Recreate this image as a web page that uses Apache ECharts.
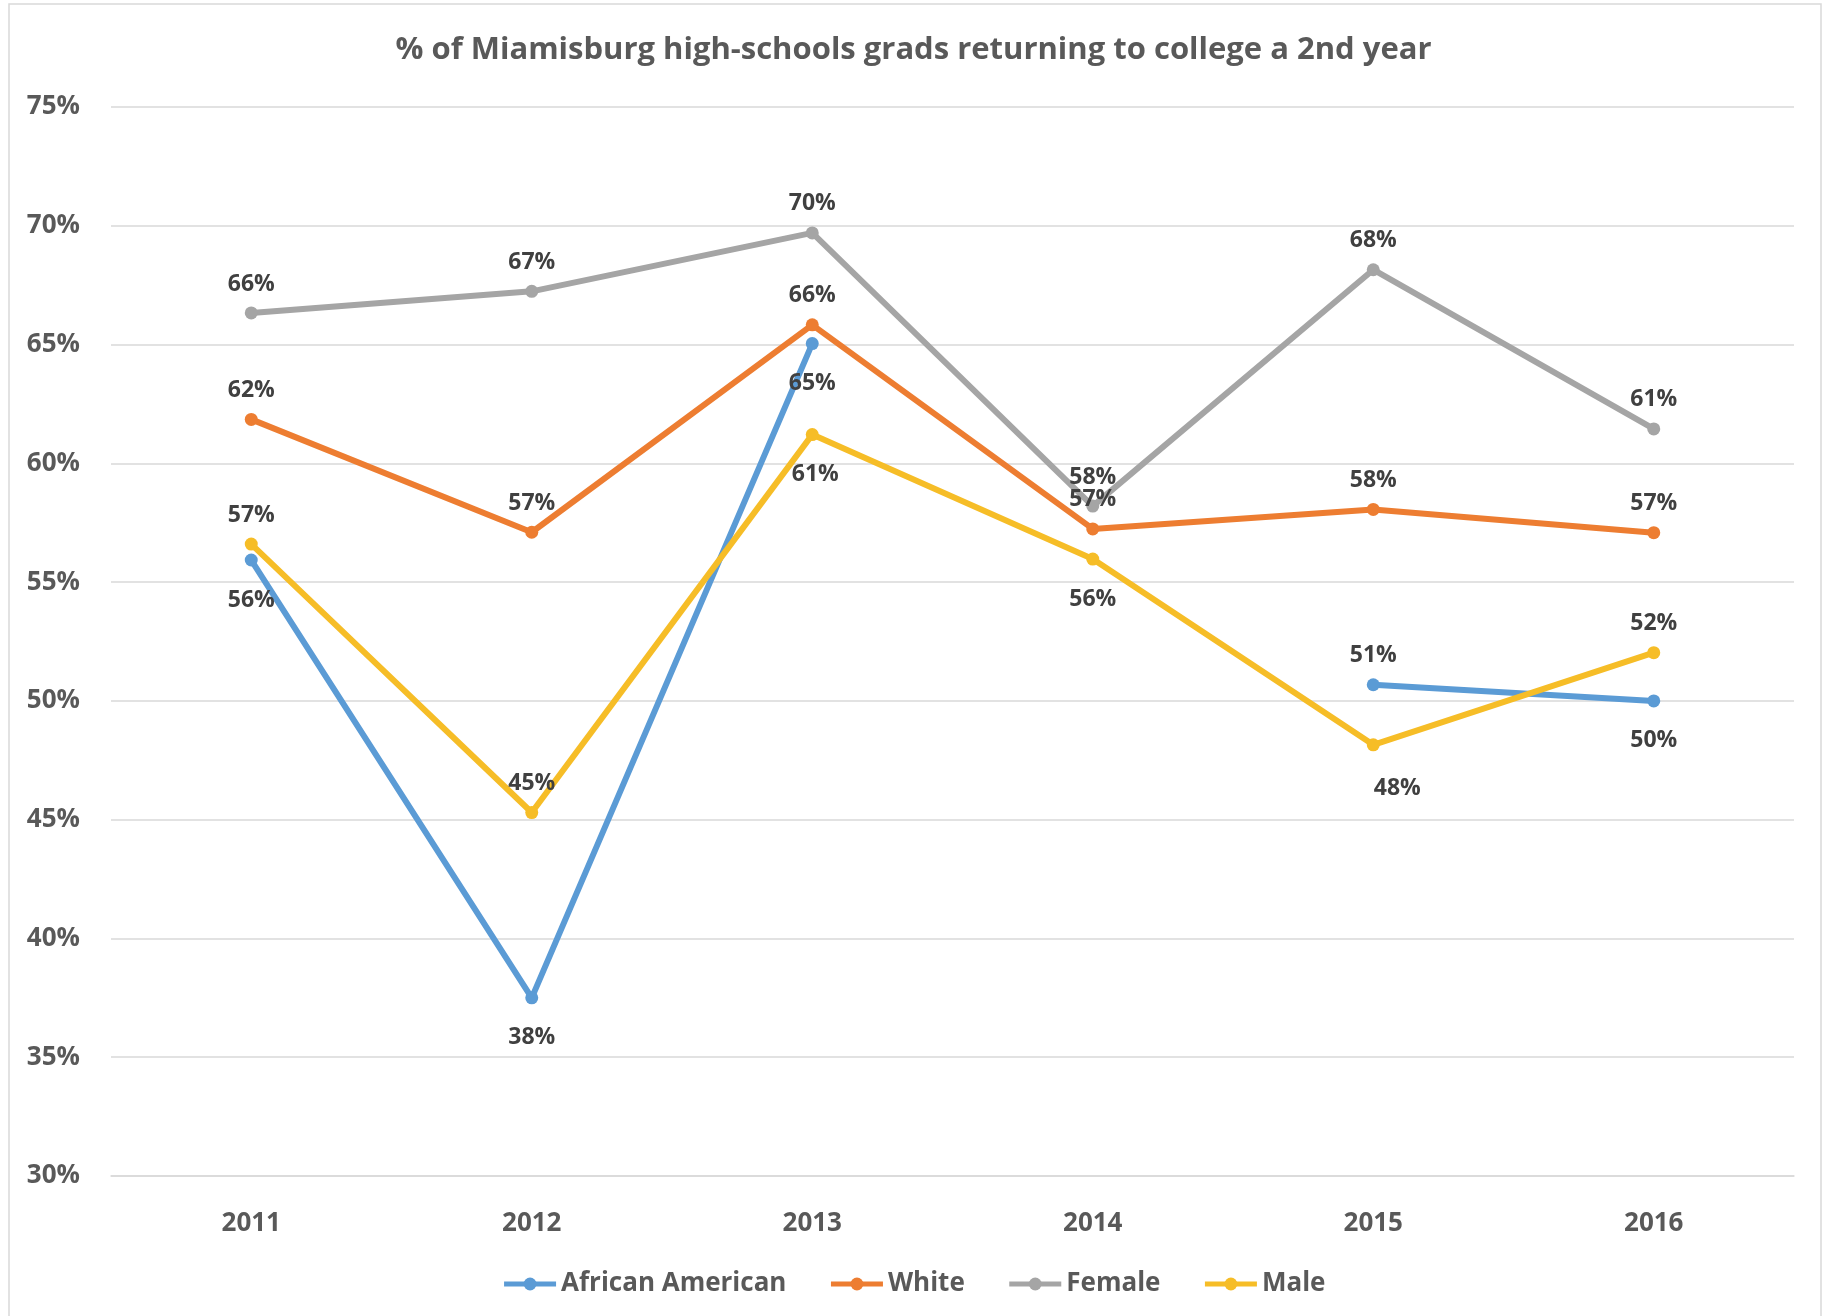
<!DOCTYPE html>
<html>
<head>
<meta charset="utf-8">
<title>Miamisburg grads returning to college</title>
<script src="https://cdn.jsdelivr.net/npm/echarts@6/dist/echarts.min.js"></script>
<style>
    html, body { margin: 0; padding: 0; background: #fff; }
    #chart { width: 1827px; height: 1316px; }
</style>
</head>
<body>
<div id="chart"></div>
<script>
// 数据（读图估计，单位 %）
var years = ['2011', '2012', '2013', '2014', '2015', '2016'];
var africanAmerican = [55.93, 37.5, 65.04, null, 50.68, 50.0];
var white = [61.85, 57.1, 65.83, 57.24, 58.06, 57.08];
var female = [66.33, 67.24, 69.7, 58.2, 68.15, 61.45];
var male = [56.6, 45.3, 61.21, 55.97, 48.15, 52.03];
var yTicks = [30, 35, 40, 45, 50, 55, 60, 65, 70, 75];

var font = '"Open Sans", "Liberation Sans", sans-serif';

// 每个点的标签位置（默认 top）
var labelBelow = {
    'African American': [0, 1, 2, 5],
    'Male': [2, 3, 4]
};

function buildData(name, values) {
    var below = labelBelow[name] || [];
    return values.map(function (v, i) {
        if (v === null) return null;
        var item = { value: v };
        if (below.indexOf(i) > -1) {
            item.label = { position: 'bottom', distance: 22 };
            if (name === 'Male' && i === 4) item.label.offset = [24, 4];
            if (name === 'Male' && i === 2) item.label.offset = [3, 0];
        }
        return item;
    });
}

function makeSeries(name, values, color) {
    return {
        name: name,
        type: 'line',
        data: buildData(name, values),
        connectNulls: false,
        symbol: 'circle',
        symbolSize: 13,
        lineStyle: { width: 6, color: color },
        itemStyle: { color: color },
        label: {
            show: true,
            position: 'top',
            distance: 11,
            fontFamily: font,
            fontWeight: 'bold',
            fontSize: 23,
            color: '#404040',
            formatter: function (p) { return Math.round(p.value) + '%'; }
        },
        emphasis: { disabled: true }
    };
}

var chart = echarts.init(document.getElementById('chart'));

var option = {
    backgroundColor: '#fff',
    animation: false,
    title: {
        text: '% of Miamisburg high-schools grads returning to college a 2nd year',
        left: 'center',
        top: 30,
        textStyle: { fontFamily: font, fontWeight: 'bold', fontSize: 31, color: '#595959' }
    },
    graphic: [{
        type: 'rect',
        shape: { x: 9, y: 4, width: 1812, height: 1330 },
        style: { fill: 'none', stroke: '#d9d9d9', lineWidth: 1.5 },
        silent: true
    }],
    legend: {
        bottom: 14,
        left: 'center',
        itemWidth: 52,
        itemHeight: 16,
        itemGap: 42,
        lineStyle: { width: 5 },
        textStyle: { fontFamily: font, fontWeight: 'bold', fontSize: 26, color: '#595959' },
        data: ['African American', 'White', 'Female', 'Male']
    },
    grid: { left: 111, right: 33, top: 107, bottom: 140 },
    xAxis: {
        type: 'category',
        data: years,
        boundaryGap: true,
        axisLine: { lineStyle: { color: '#d9d9d9', width: 1.5 } },
        axisTick: { show: false },
        axisLabel: { margin: 35, fontFamily: font, fontWeight: 'bold', fontSize: 26, color: '#595959' }
    },
    yAxis: {
        type: 'value',
        min: yTicks[0],
        max: yTicks[yTicks.length - 1],
        interval: 5,
        axisLine: { show: false },
        axisTick: { show: false },
        splitLine: { lineStyle: { color: '#d9d9d9', width: 1.5 } },
        axisLabel: {
            margin: 31,
            fontFamily: font, fontWeight: 'bold', fontSize: 26, color: '#595959',
            formatter: '{value}%'
        }
    },
    series: [
        makeSeries('African American', africanAmerican, '#5b9bd5'),
        makeSeries('White', white, '#ed7d31'),
        makeSeries('Female', female, '#a5a5a5'),
        makeSeries('Male', male, '#f6bd27')
    ]
};

chart.setOption(option);
</script>
</body>
</html>
